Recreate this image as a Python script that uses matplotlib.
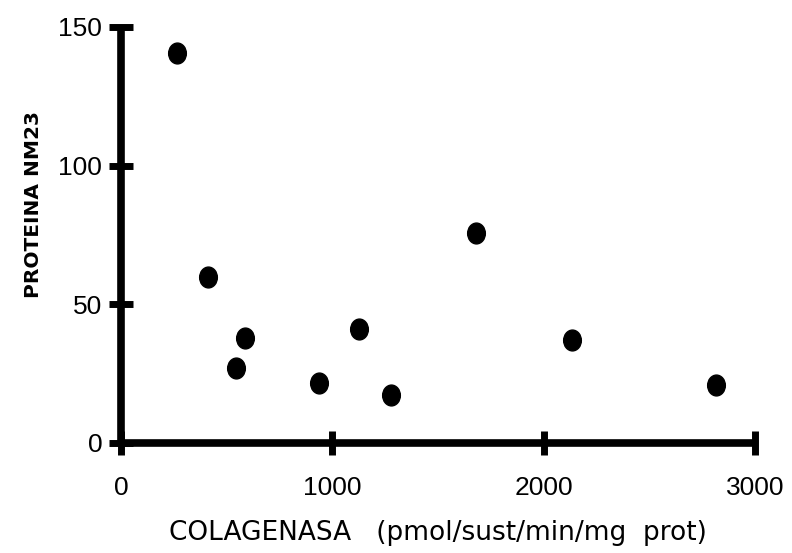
import matplotlib
matplotlib.use("Agg")
import matplotlib.pyplot as plt
from matplotlib.path import Path
from matplotlib.transforms import Affine2D

# Data
colagenasa = [264, 410, 544, 587, 937, 1128, 1276, 1680, 2133, 2814]
proteina = [140.5, 60, 27.1, 37.7, 21.5, 41, 17.3, 75.6, 37.1, 20.9]

x_ticks = [0, 1000, 2000, 3000]
y_ticks = [0, 50, 100, 150]
x_label = "COLAGENASA   (pmol/sust/min/mg  prot)"
y_label = "PROTEINA NM23"

fig = plt.figure(figsize=(7.92, 5.53), dpi=100)
ax = fig.add_axes([121/792, 1-443/553, (755-121)/792, (443-27)/553])

ellipse = Path.unit_circle().transformed(Affine2D().scale(0.85, 1.0))
ax.plot(colagenasa, proteina, linestyle="none", marker=ellipse,
        markersize=15, color="black", clip_on=False)

ax.set_xlim(0, 3000)
ax.set_ylim(0, 150)
ax.set_xticks(x_ticks)
ax.set_yticks(y_ticks)

for s in ["top", "right"]:
    ax.spines[s].set_visible(False)
for s in ["left", "bottom"]:
    ax.spines[s].set_linewidth(5.5)
    ax.spines[s].set_capstyle("butt")

ax.tick_params(axis="both", direction="inout", length=17, width=5,
               labelsize=19, color="black")
ax.tick_params(axis="x", pad=15)
ax.tick_params(axis="y", pad=5)
for lab in ax.get_xticklabels() + ax.get_yticklabels():
    lab.set_fontfamily(["Liberation Sans", "DejaVu Sans"])

ax.set_xlabel(x_label, fontsize=19, family=["DejaVu Sans"])
ax.set_ylabel(y_label, fontsize=14.5, fontweight="bold", family=["DejaVu Sans"])
ax.xaxis.set_label_coords(0.5, (443 - 520) / 416)
ax.yaxis.set_label_coords((43 - 121) / 634, (443 - 205) / 416)

fig.savefig("out.png", dpi=100)
